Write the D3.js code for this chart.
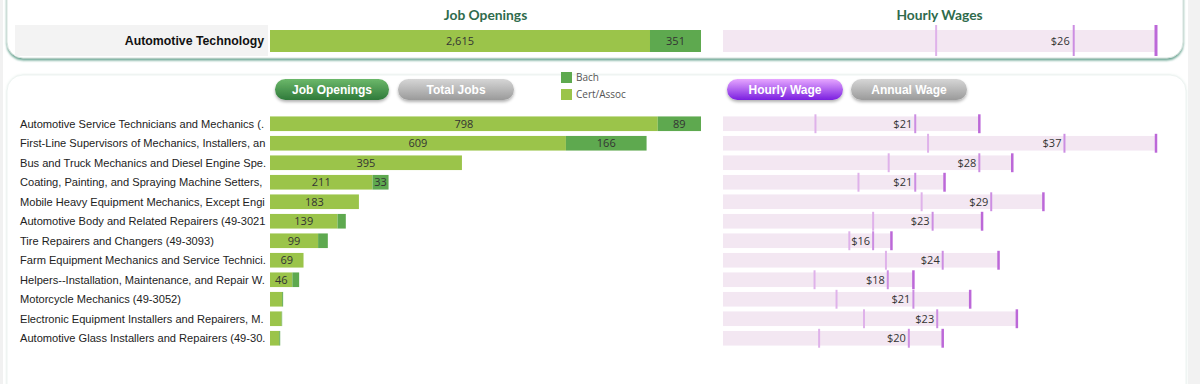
<!DOCTYPE html>
<html><head><meta charset="utf-8">
<script src="https://cdn.jsdelivr.net/npm/d3@7"></script>
<style>
html,body{margin:0;padding:0;background:#fff;}
svg{display:block;}
</style></head>
<body>
<svg id="chart" width="1200" height="384"></svg>
<script>
// ---------- DATA ----------
const programName = "Automotive Technology";
const programCert = 2615;
const programBach = 351;
const programWage = {low: 15.8, median: 26, high: 32.1};

const occupations = [
  "Automotive Service Technicians and Mechanics (.",
  "First-Line Supervisors of Mechanics, Installers, an",
  "Bus and Truck Mechanics and Diesel Engine Spe.",
  "Coating, Painting, and Spraying Machine Setters,",
  "Mobile Heavy Equipment Mechanics, Except Engi",
  "Automotive Body and Related Repairers (49-3021",
  "Tire Repairers and Changers (49-3093)",
  "Farm Equipment Mechanics and Service Technici.",
  "Helpers--Installation, Maintenance, and Repair W.",
  "Motorcycle Mechanics (49-3052)",
  "Electronic Equipment Installers and Repairers, M.",
  "Automotive Glass Installers and Repairers (49-30."
];
const certAssoc = [798, 609, 395, 211, 183, 139, 99, 69, 46, 25, 24, 19];
const bach      = [89, 166, 0, 33, 0, 17, 20, 0, 14, 2, 1, 2];
const wageLow    = [10.1, 22.4, 18.1, 14.8, 21.7, 16.4, 13.8, 17.8, 10.0, 12.4, 15.4, 10.5];
const wageMedian = [21.0, 37.3, 28.0, 21.0, 29.3, 22.9, 16.4, 24.0, 18.0, 20.8, 23.4, 20.3];
const wageHigh   = [28.0, 47.3, 31.6, 24.2, 35.0, 28.3, 18.4, 30.1, 20.8, 27.0, 32.1, 24.0];

const legendLabels = ["Bach", "Cert/Assoc"];
const jobButtons = ["Job Openings", "Total Jobs"];
const wageButtons = ["Hourly Wage", "Annual Wage"];
const titles = ["Job Openings", "Hourly Wages"];

// ---------- STYLE ----------
const C = {
  cert: "#9bc44a", bach: "#5ea94f",
  wageBg: "#f3e7f2", low: "#dfb2ea", med: "#cc8ee2", high: "#bc68d8",
  title: "#2f6b4c", text: "#222", num: "#333"
};
const numFont = "'Open Sans', sans-serif";
const labFont = "'Liberation Sans', Arial, sans-serif";

const svg = d3.select("#chart");
const defs = svg.append("defs");

const f1 = defs.append("filter").attr("id","cardShadow").attr("x","-5%").attr("y","-20%").attr("width","110%").attr("height","150%");
f1.append("feDropShadow").attr("dx",0).attr("dy",2).attr("stdDeviation",1.2).attr("flood-color","#4f9580").attr("flood-opacity",0.85);
const f2 = defs.append("filter").attr("id","cardShadow2").attr("x","-5%").attr("y","-5%").attr("width","110%").attr("height","110%");
f2.append("feDropShadow").attr("dx",0).attr("dy",0).attr("stdDeviation",1).attr("flood-color","#b5d0c7").attr("flood-opacity",0.4);
const f3 = defs.append("filter").attr("id","btnShadow").attr("x","-20%").attr("y","-30%").attr("width","140%").attr("height","180%");
f3.append("feDropShadow").attr("dx",0).attr("dy",2).attr("stdDeviation",1.5).attr("flood-color","#000").attr("flood-opacity",0.3);

function grad(id, top, bottom){
  const g = defs.append("linearGradient").attr("id",id).attr("x1",0).attr("y1",0).attr("x2",0).attr("y2",1);
  g.append("stop").attr("offset","0%").attr("stop-color",top);
  g.append("stop").attr("offset","100%").attr("stop-color",bottom);
}
grad("gGreen","#6cb86a","#2f7a3a");
grad("gGray","#d6d6d6","#9a9a9a");
grad("gPurple","#e6a6ff","#7a1fe0");

defs.append("clipPath").attr("id","labelClip").append("rect")
  .attr("x",0).attr("y",100).attr("width",268).attr("height",260);

// page side strips
svg.append("rect").attr("x",0).attr("y",0).attr("width",3).attr("height",384).attr("fill","#f1f1f1");
svg.append("rect").attr("x",1188).attr("y",0).attr("width",12).attr("height",384).attr("fill","#f2f2f2");

// cards
svg.append("rect").attr("x",7).attr("y",-30).attr("width",1176).attr("height",88).attr("rx",16)
  .attr("fill","#fff").attr("stroke","#d5e3de").attr("stroke-width",1).attr("filter","url(#cardShadow)");
svg.append("rect").attr("x",7).attr("y",75).attr("width",1179).attr("height",340).attr("rx",16)
  .attr("fill","#fff").attr("stroke","#edf3f1").attr("stroke-width",1).attr("filter","url(#cardShadow2)");

// ---------- SCALES ----------
const xJobsTop = d3.scaleLinear().domain([0, programCert + programBach]).range([270, 701]);
const xWageTop = d3.scaleLinear().domain([0, programWage.high]).range([723, 1156]);

const totals = certAssoc.map((v,i)=>v+bach[i]);
const xJobs = d3.scaleLinear().domain([0, d3.max(totals)]).range([270, 701]);
const xWage = d3.scaleLinear().domain([0, d3.max(wageHigh)]).range([723, 1156]);
const y = d3.scaleBand().domain(d3.range(occupations.length)).range([114, 348]).paddingInner(0.25).paddingOuter(0.125);
const yStep = d3.scaleBand().domain(d3.range(occupations.length)).range([114, 348]);

const fmtN = d3.format(",");
const fmtW = d3.format("$.0f");

// ---------- TITLES ----------
svg.selectAll("text.title").data(titles).join("text").attr("class","title")
  .attr("x",(d,i)=> i===0 ? (xJobsTop.range()[0]+xJobsTop.range()[1])/2 : (xWageTop.range()[0]+xWageTop.range()[1])/2)
  .attr("y",15).attr("dy","0.35em").attr("text-anchor","middle")
  .attr("font-family","Lato, sans-serif").attr("font-weight","bold").attr("font-size",13.8)
  .attr("fill",C.title).text(d=>d);

// ---------- TOP ROW ----------
svg.append("rect").attr("x",15).attr("y",25).attr("width",253).attr("height",31).attr("fill","#f3f3f3");
svg.append("text").attr("x",264).attr("y",41).attr("dy","0.35em").attr("text-anchor","end")
  .attr("font-family",labFont).attr("font-weight","bold").attr("font-size",12.3).attr("fill","#111").text(programName);

const topSegs = [
  {x0:0, x1:programCert, color:C.cert, v:programCert},
  {x0:programCert, x1:programCert+programBach, color:C.bach, v:programBach}
];
svg.selectAll("rect.topseg").data(topSegs).join("rect").attr("class","topseg")
  .attr("x",d=>xJobsTop(d.x0)).attr("width",d=>xJobsTop(d.x1)-xJobsTop(d.x0))
  .attr("y",30).attr("height",22).attr("fill",d=>d.color);
svg.selectAll("text.topseg").data(topSegs).join("text").attr("class","topseg")
  .attr("x",d=>(xJobsTop(d.x0)+xJobsTop(d.x1))/2).attr("y",41).attr("dy","0.35em").attr("text-anchor","middle")
  .attr("font-family",numFont).attr("font-size",11).attr("fill",C.num).text(d=>fmtN(d.v));

svg.append("rect").attr("x",xWageTop(0)).attr("width",xWageTop(programWage.high)-xWageTop(0))
  .attr("y",30).attr("height",22).attr("fill",C.wageBg);
[["low",C.low,2],["median",C.med,2],["high",C.high,3]].forEach(([k,c,w])=>{
  svg.append("line").attr("x1",xWageTop(programWage[k])).attr("x2",xWageTop(programWage[k]))
    .attr("y1",25).attr("y2",56).attr("stroke",c).attr("stroke-width",w);
});
svg.append("text").attr("x",xWageTop(programWage.median)-4).attr("y",41).attr("dy","0.35em").attr("text-anchor","end")
  .attr("font-family",numFont).attr("font-size",11).attr("fill",C.num).text(fmtW(programWage.median));

// ---------- BUTTONS ----------
const btnData = [
  {t:jobButtons[0], x:275, w:114, fill:"url(#gGreen)"},
  {t:jobButtons[1], x:398, w:116, fill:"url(#gGray)"},
  {t:wageButtons[0], x:727, w:116, fill:"url(#gPurple)"},
  {t:wageButtons[1], x:851, w:116, fill:"url(#gGray)"}
];
const btn = svg.selectAll("g.btn").data(btnData).join("g").attr("class","btn");
btn.append("rect").attr("x",d=>d.x).attr("y",79).attr("width",d=>d.w).attr("height",21).attr("rx",10.5)
  .attr("fill",d=>d.fill).attr("filter","url(#btnShadow)");
btn.append("text").attr("x",d=>d.x+d.w/2).attr("y",89.5).attr("dy","0.35em").attr("text-anchor","middle")
  .attr("font-family",labFont).attr("font-weight","bold").attr("font-size",12).attr("fill","#fff").text(d=>d.t);

// ---------- LEGEND ----------
const leg = svg.selectAll("g.leg").data(legendLabels).join("g").attr("class","leg")
  .attr("transform",(d,i)=>`translate(561,${72+i*17})`);
leg.append("rect").attr("width",11).attr("height",11).attr("fill",(d,i)=> i===0?C.bach:C.cert);
leg.append("text").attr("x",15).attr("y",5.5).attr("dy","0.35em").attr("font-family",numFont)
  .attr("font-size",10).attr("fill","#555").text(d=>d);

// ---------- ROW LABELS ----------
svg.append("g").attr("clip-path","url(#labelClip)")
  .selectAll("text").data(occupations).join("text")
  .attr("x",20).attr("y",(d,i)=>yStep(i)+yStep.bandwidth()/2).attr("dy","0.35em")
  .attr("font-family",labFont).attr("font-size",11.1).attr("fill",C.text).text(d=>d);

// ---------- JOB BARS ----------
const segs = [];
occupations.forEach((o,i)=>{
  segs.push({i, x0:0, x1:certAssoc[i], v:certAssoc[i], color:C.cert});
  segs.push({i, x0:certAssoc[i], x1:certAssoc[i]+bach[i], v:bach[i], color:C.bach});
});
const segsNZ = segs.filter(d=>d.v>0);
svg.append("g").selectAll("rect").data(segsNZ).join("rect")
  .attr("x",d=>xJobs(d.x0)).attr("width",d=>xJobs(d.x1)-xJobs(d.x0))
  .attr("y",d=>y(d.i)).attr("height",y.bandwidth()).attr("fill",d=>d.color);
svg.append("g").selectAll("text").data(segsNZ.filter(d=>xJobs(d.x1)-xJobs(d.x0)>=14)).join("text")
  .attr("x",d=>(xJobs(d.x0)+xJobs(d.x1))/2).attr("y",d=>y(d.i)+y.bandwidth()/2).attr("dy","0.35em")
  .attr("text-anchor","middle").attr("font-family",numFont).attr("font-size",11).attr("fill",C.num)
  .text(d=>fmtN(d.v));

// ---------- WAGE BARS ----------
const wg = svg.append("g");
wg.selectAll("rect").data(occupations).join("rect")
  .attr("x",xWage(0)).attr("width",(d,i)=>xWage(wageHigh[i])-xWage(0))
  .attr("y",(d,i)=>y(i)).attr("height",y.bandwidth()).attr("fill",C.wageBg);
const marks = [];
occupations.forEach((o,i)=>{
  marks.push({i, v:wageLow[i], c:C.low, w:2});
  marks.push({i, v:wageMedian[i], c:C.med, w:2});
  marks.push({i, v:wageHigh[i], c:C.high, w:2.5});
});
wg.selectAll("line").data(marks).join("line")
  .attr("x1",d=>xWage(d.v)).attr("x2",d=>xWage(d.v))
  .attr("y1",d=>yStep(d.i)+0.3).attr("y2",d=>yStep(d.i)+yStep.bandwidth()-0.3)
  .attr("stroke",d=>d.c).attr("stroke-width",d=>d.w);
wg.selectAll("text").data(occupations).join("text")
  .attr("x",(d,i)=>xWage(wageMedian[i])-3).attr("y",(d,i)=>y(i)+y.bandwidth()/2).attr("dy","0.35em")
  .attr("text-anchor","end").attr("font-family",numFont).attr("font-size",11).attr("fill",C.num)
  .text((d,i)=>fmtW(wageMedian[i]));
</script>
</body></html>
